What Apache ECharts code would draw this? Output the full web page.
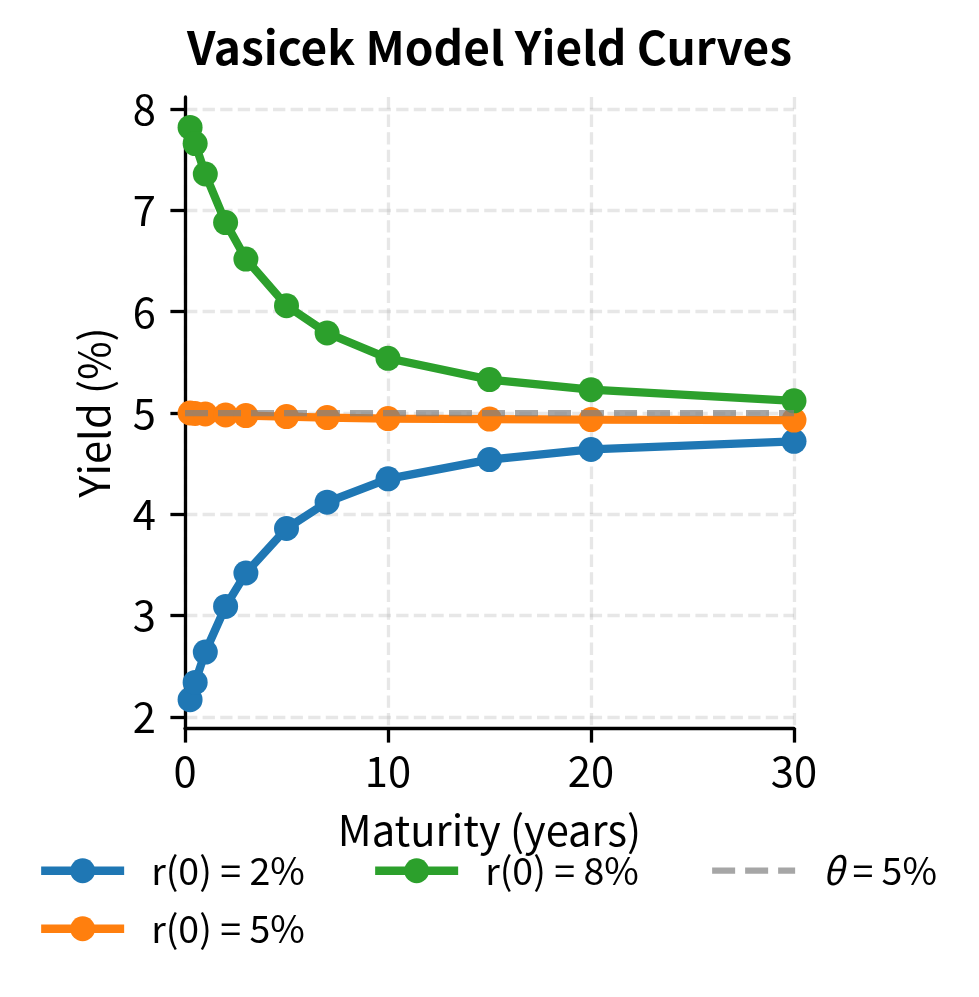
<!DOCTYPE html>
<html>
<head>
<meta charset="utf-8">
<script src="https://cdn.jsdelivr.net/npm/echarts@6/dist/echarts.min.js"></script>
<style>
html,body{margin:0;padding:0;background:#fff;}
#chart{width:979px;height:997px;}
</style>
</head>
<body>
<div id="chart"></div>
<script>
// Data
const maturities = [0.25, 0.5, 1, 2, 3, 5, 7, 10, 15, 20, 30];
const yieldsR2 = [2.17, 2.34, 2.64, 3.09, 3.42, 3.86, 4.12, 4.35, 4.54, 4.64, 4.72];
const yieldsR5 = [5.00, 4.995, 4.99, 4.98, 4.975, 4.965, 4.955, 4.945, 4.94, 4.935, 4.93];
const yieldsR8 = [7.82, 7.66, 7.36, 6.88, 6.52, 6.06, 5.79, 5.54, 5.33, 5.23, 5.12];
const thetaX = [0, 30];
const thetaY = [5, 5];
const yTicks = [2, 3, 4, 5, 6, 7, 8];
const xTicks = [0, 10, 20, 30];
const seriesNames = ['r(0) = 2%', 'r(0) = 5%', 'r(0) = 8%', 'θ = 5%'];

const FONT = '"Noto Sans CJK SC", "Source Sans 3", "DejaVu Sans", sans-serif';
const pairs = (xs, ys) => xs.map((x, i) => [x, ys[i]]);

const chart = echarts.init(document.getElementById('chart'), null, {renderer: 'canvas'});

const lineSeries = (name, ys, color, z) => ({
  name: name,
  type: 'line',
  data: pairs(maturities, ys),
  symbol: 'circle',
  symbolSize: 25,
  showAllSymbol: true,
  clip: true,
  z: z,
  lineStyle: {color: color, width: 8.3},
  itemStyle: {color: color},
  emphasis: {disabled: true},
  animation: false
});

const LEG_FS = 37.5;
const legendBase = (name, left, top, color, extra) => Object.assign({
  data: [name],
  left: left,
  top: top,
  padding: 0,
  itemWidth: 83,
  itemHeight: 31,
  selectedMode: false,
  lineStyle: {color: color, width: 8.3},
  itemStyle: {color: color},
  textStyle: {fontFamily: FONT, fontSize: LEG_FS, color: '#000', padding: [0, 0, 0, 22]}
}, extra || {});

const option = {
  backgroundColor: '#fff',
  animation: false,
  title: {
    text: 'Vasicek Model Yield Curves',
    left: 'center',
    top: 25,
    padding: 0,
    textStyle: {fontFamily: FONT, fontSize: 46, fontWeight: 'bold', color: '#000'}
  },
  grid: {left: 185, right: 185, top: 97, bottom: 269},
  xAxis: {
    type: 'value',
    min: 0,
    max: 30,
    interval: 10,
    name: 'Maturity (years)',
    nameLocation: 'middle',
    nameGap: 81,
    nameTextStyle: {fontFamily: FONT, fontSize: 41.7, color: '#000'},
    axisLine: {show: true, onZero: false, lineStyle: {color: '#000', width: 3.3}},
    axisTick: {show: true, length: 14.6, lineStyle: {color: '#000', width: 3.3}},
    axisLabel: {fontFamily: FONT, fontSize: 41.7, color: '#000', margin: 22},
    splitLine: {show: true, lineStyle: {color: 'rgba(176,176,176,0.3)', width: 3.3, type: [12.3, 5.3]}}
  },
  yAxis: {
    type: 'value',
    min: 1.89,
    max: 8.12,
    name: 'Yield (%)',
    nameLocation: 'middle',
    nameGap: 70,
    nameTextStyle: {fontFamily: FONT, fontSize: 41.7, color: '#000'},
    axisLine: {show: true, onZero: false, lineStyle: {color: '#000', width: 3.3}},
    axisTick: {show: true, length: 14.6, customValues: yTicks, lineStyle: {color: '#000', width: 3.3}},
    axisLabel: {fontFamily: FONT, fontSize: 41.7, color: '#000', margin: 29, customValues: yTicks},
    splitLine: {show: true, lineStyle: {color: 'rgba(176,176,176,0.3)', width: 3.3, type: [12.3, 5.3]}}
  },
  legend: [
    legendBase(seriesNames[0], 37, 852, '#1f77b4'),
    legendBase(seriesNames[1], 37, 910, '#ff7f0e'),
    legendBase(seriesNames[2], 371, 852, '#2ca02c'),
    legendBase(seriesNames[3], 709, 852, 'rgba(128,128,128,0.7)', {
      lineStyle: {color: 'rgba(128,128,128,0.7)', width: 6.25, type: [23, 10]},
      itemStyle: {opacity: 0},
      formatter: function () { return '{i|θ} = 5%'; },
      textStyle: {fontFamily: FONT, fontSize: LEG_FS, color: '#000', padding: [0, 0, 0, 22],
        rich: {i: {fontFamily: FONT, fontSize: LEG_FS, fontStyle: 'italic', color: '#000'}}}
    })
  ],
  series: [
    lineSeries(seriesNames[0], yieldsR2, '#1f77b4', 2),
    lineSeries(seriesNames[1], yieldsR5, '#ff7f0e', 3),
    lineSeries(seriesNames[2], yieldsR8, '#2ca02c', 4),
    {
      name: seriesNames[3],
      type: 'line',
      data: pairs(thetaX, thetaY),
      symbol: 'none',
      z: 5,
      lineStyle: {color: 'rgba(128,128,128,0.7)', width: 6.25, type: [23, 10]},
      itemStyle: {color: 'rgba(128,128,128,0.7)'},
      emphasis: {disabled: true},
      animation: false
    }
  ]
};
chart.setOption(option);
</script>
</body>
</html>
